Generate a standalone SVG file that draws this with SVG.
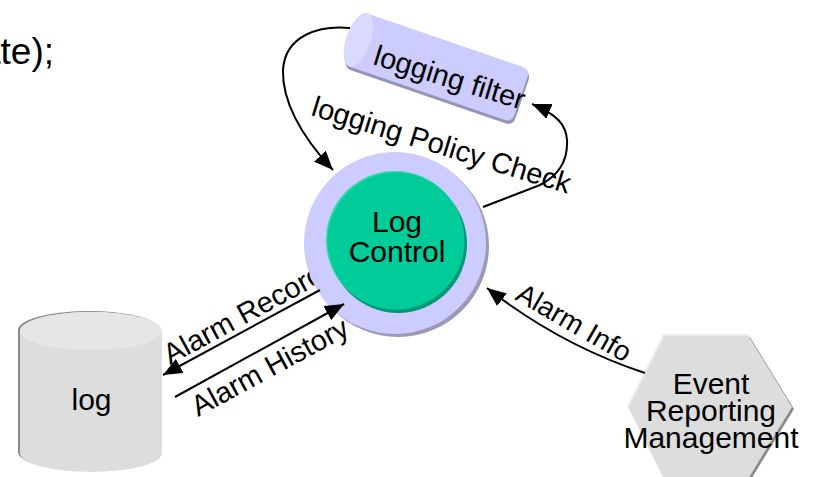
<svg xmlns="http://www.w3.org/2000/svg" width="817" height="477" viewBox="0 0 817 477">
<defs>
<style>
text{font-family:"Liberation Sans",Arial,sans-serif;fill:#000}
.node{font-size:30px;text-anchor:middle}
.lbl{font-size:29px}
.conn{fill:none;stroke:#000;stroke-width:2;marker-end:url(#ah)}
</style>
<marker id="ah" markerUnits="userSpaceOnUse" markerWidth="20" markerHeight="16" refX="19" refY="8" orient="auto">
<path d="M0,0 L19,8 L0,16 Z" fill="#000"/>
</marker>
</defs>
<rect width="817" height="477" fill="#fff"/>
<text x="54" y="64" style="font-size:37px;text-anchor:end">ate);</text>
<g id="labels">
<text class="lbl" transform="translate(310,115) rotate(17)">logging Policy Check</text>
<text class="lbl" transform="translate(170,365) rotate(-28.5)">Alarm Record</text>
<text class="lbl" transform="translate(198,417) rotate(-28.5)">Alarm History</text>
<text class="lbl" style="font-size:28px" transform="translate(514,299) rotate(30)">Alarm Info</text>
</g>
<g id="logging-filter">
<g transform="translate(434,66) rotate(19)">
<path d="M-80,-28 L84,-28 Q92,-28 92,-20 L92,20 Q92,28 84,28 L-80,28 A12,28 0 0 1 -80,-28 Z" fill="#9494b8" transform="translate(2,3)"/>
<path d="M-80,-28 L84,-28 Q92,-28 92,-20 L92,20 Q92,28 84,28 L-80,28 A12,28 0 0 1 -80,-28 Z" fill="#ccccff"/>
<ellipse cx="-80" cy="0" rx="12" ry="28" fill="#dadaff"/>
</g>
<text style="font-size:29px" transform="translate(372,64) rotate(17)">logging filter</text>
</g>
<g id="log-control">
<circle cx="398" cy="246" r="91" fill="#9a9ab8"/>
<circle cx="395" cy="243" r="91" fill="#ccccff"/>
<circle cx="398" cy="244" r="69" fill="#009977"/>
<circle cx="395" cy="240" r="69" fill="#33d6ad"/>
<circle cx="396" cy="241" r="68.5" fill="#00cc99"/>
<text class="node" x="397" y="232">Log</text>
<text class="node" x="397" y="262">Control</text>
</g>
<g id="log">
<path d="M18,330 A71,19 0 0 1 160,330 L160,452 A71,19 0 0 1 18,452 Z" fill="#8a8a8a"/>
<path d="M20,331 A71,19 0 0 1 162,331 L162,453 A71,19 0 0 1 20,453 Z" fill="#dddddd"/>
<ellipse cx="91" cy="331" rx="71" ry="19" fill="#e6e6e6"/>
<text class="node" x="91.5" y="410">log</text>
</g>
<g id="event-reporting-management">
<polygon points="666,337 750,337 794,409 750,481 666,481 630,409" fill="#8a8a8a"/>
<polygon points="664,335 748,335 792,407 748,479 664,479 628,407" fill="#dddddd"/>
<polyline points="628,407 664,335 748,335" fill="none" stroke="#ebebeb" stroke-width="2"/>
<text class="node" x="711" y="394">Event</text>
<text class="node" x="711" y="421">Reporting</text>
<text class="node" x="711" y="448">Management</text>
</g>
<g id="connectors">
<path class="conn" d="M350,28 C320,25 285,35 283,70 C282,100 300,135 333,170"/>
<path class="conn" d="M483,207 L540,185 C560,175 568,160 567,140 C566,125 558,115 532,104"/>
<path class="conn" d="M645,373 Q560,345 487,288"/>
<path class="conn" d="M320,290 L163,375"/>
<path class="conn" d="M175,397 L344,304"/>
</g>
</svg>
